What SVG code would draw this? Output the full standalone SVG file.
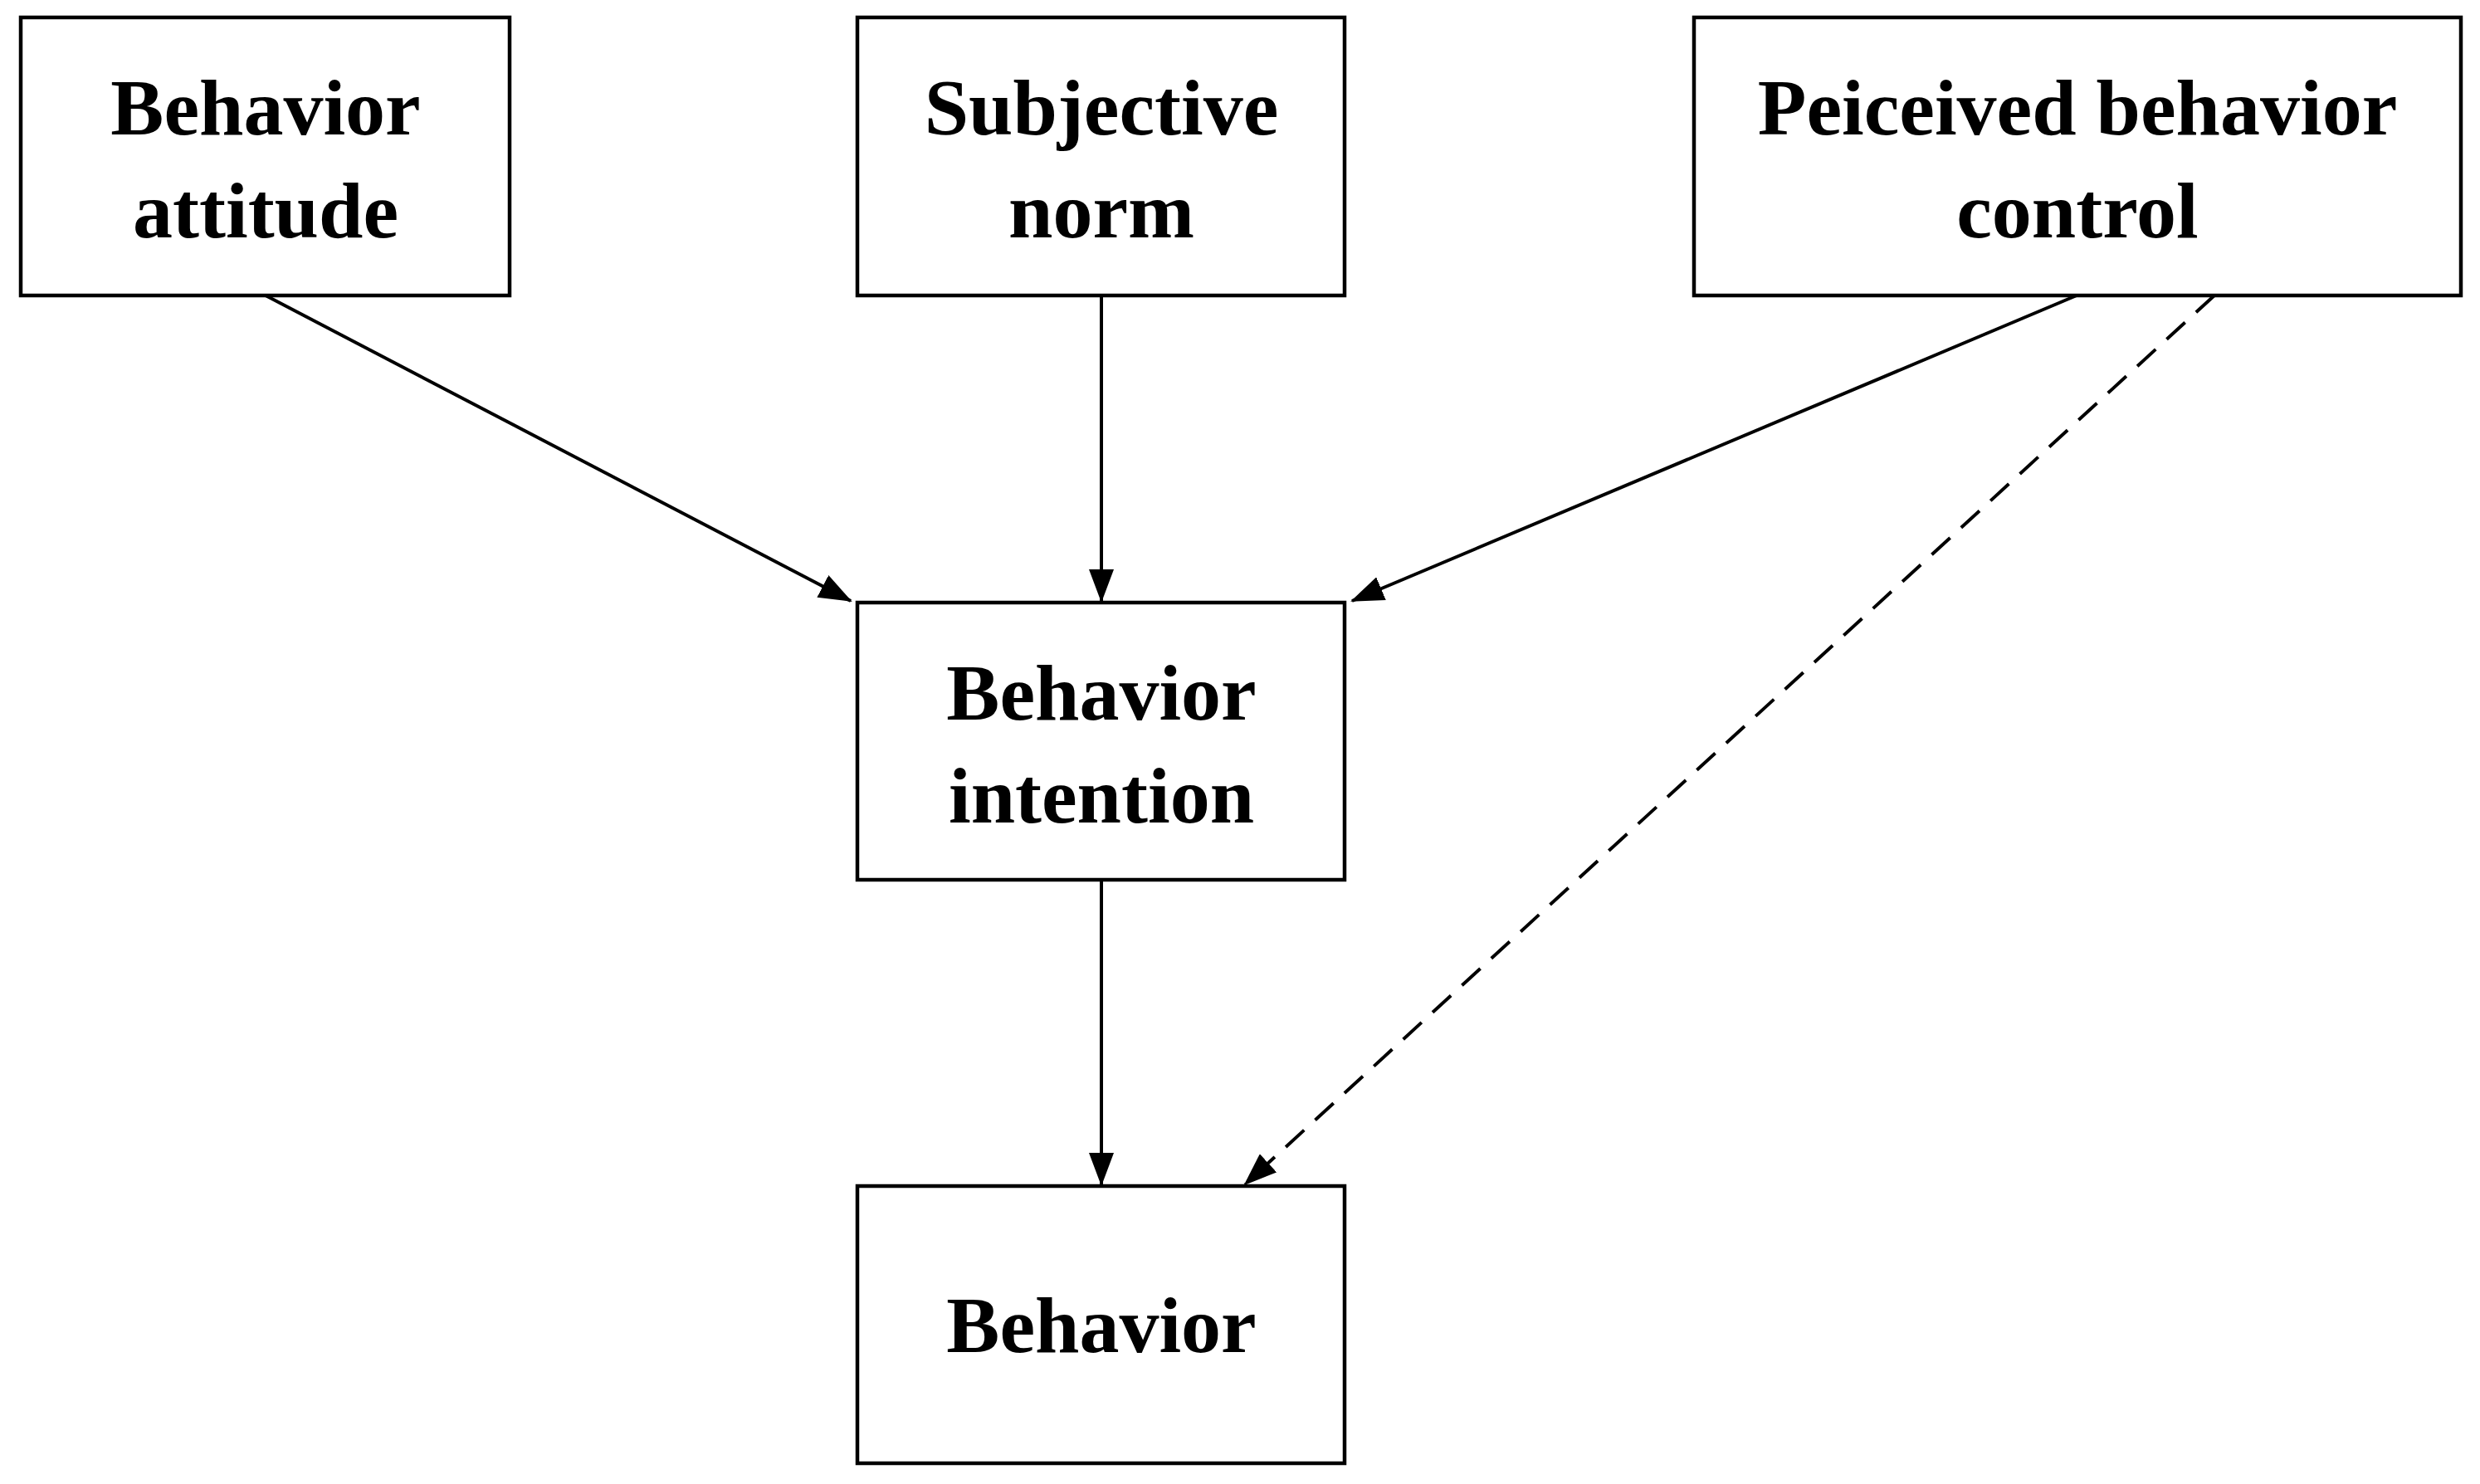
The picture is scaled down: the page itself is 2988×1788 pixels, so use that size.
<svg xmlns="http://www.w3.org/2000/svg" width="2988" height="1788" viewBox="0 0 2988 1788">
<style>
.box{fill:#fff;stroke:#000;stroke-width:4.5}
.t{font-family:"Liberation Serif",serif;font-weight:bold;font-size:96px;text-anchor:middle;fill:#000}
.c{stroke:#000;stroke-width:4;fill:none;marker-end:url(#a)}
.d{stroke-dasharray:30,18}
</style>
<defs><marker id="a" markerUnits="userSpaceOnUse" markerWidth="40" markerHeight="30" refX="38" refY="15" orient="auto"><path d="M0,0 L40,15 L0,30 Z" fill="#000"/></marker></defs>
<rect width="2988" height="1788" fill="#fff"/>
<g id="connectors">
<line class="c" x1="320" y1="356" x2="1025" y2="724"/>
<line class="c" x1="1327" y1="356" x2="1327" y2="724"/>
<line class="c" x1="2502" y1="356" x2="1629" y2="724"/>
<line class="c" x1="1327" y1="1060" x2="1327" y2="1427"/>
<line class="c d" x1="2668" y1="356" x2="1500" y2="1427"/>
</g>
<g id="n1"><rect class="box" x="25" y="21" width="589" height="335"/><text class="t" x="320" y="162">Behavior</text><text class="t" x="320" y="286">attitude</text></g>
<g id="n2"><rect class="box" x="1033" y="21" width="587" height="335"/><text class="t" x="1327" y="162">Subjective</text><text class="t" x="1327" y="286">norm</text></g>
<g id="n3"><rect class="box" x="2041" y="21" width="924" height="335"/><text class="t" x="2503" y="162">Peiceived behavior</text><text class="t" x="2503" y="286">control</text></g>
<g id="n4"><rect class="box" x="1033" y="726" width="587" height="334"/><text class="t" x="1327" y="867">Behavior</text><text class="t" x="1327" y="991">intention</text></g>
<g id="n5"><rect class="box" x="1033" y="1429" width="587" height="334"/><text class="t" x="1327" y="1629">Behavior</text></g>
</svg>
